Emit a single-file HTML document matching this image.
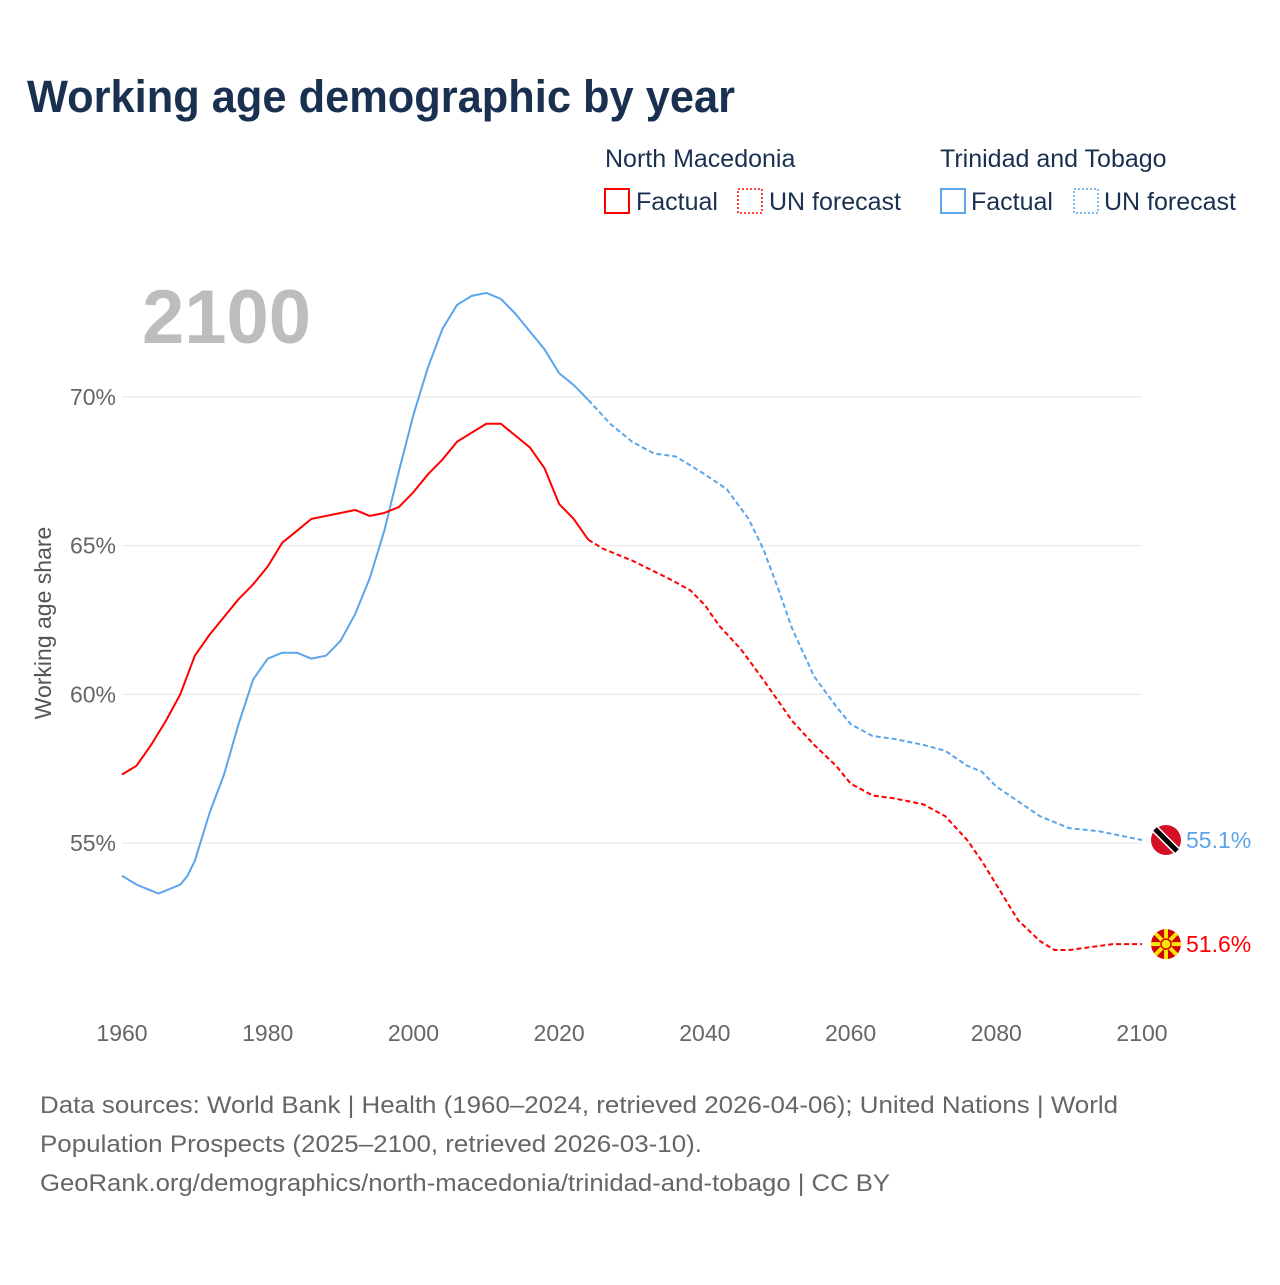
<!DOCTYPE html>
<html><head><meta charset="utf-8"><style>
body{margin:0;background:#fff;font-family:"Liberation Sans",sans-serif;}
svg text{font-family:"Liberation Sans",sans-serif;}
</style></head><body>
<svg id="c" width="1280" height="1280" viewBox="0 0 1280 1280">
<text x="27" y="112" font-size="45" font-weight="bold" fill="#1a3050" textLength="708" lengthAdjust="spacingAndGlyphs">Working age demographic by year</text>
<g font-size="25" fill="#1a3050">
<text x="605" y="167">North Macedonia</text>
<rect x="605" y="189" width="24" height="24" fill="none" stroke="#f00" stroke-width="2"/>
<text x="636" y="210">Factual</text>
<rect x="738" y="189" width="24" height="24" fill="none" stroke="#f00" stroke-width="1.5" stroke-dasharray="2,2"/>
<text x="769" y="210">UN forecast</text>
<text x="940" y="167">Trinidad and Tobago</text>
<rect x="941" y="189" width="24" height="24" fill="none" stroke="#5ba5ea" stroke-width="2"/>
<text x="971" y="210">Factual</text>
<rect x="1074" y="189" width="24" height="24" fill="none" stroke="#5ba5ea" stroke-width="1.5" stroke-dasharray="2,2"/>
<text x="1104" y="210">UN forecast</text>
</g>
<text x="142" y="343" font-size="76" font-weight="bold" fill="#bdbdbd">2100</text>
<text transform="translate(51,623) rotate(-90)" text-anchor="middle" font-size="23" fill="#555">Working age share</text>
<g id="grid"></g><g id="lines"></g>
<g font-size="24" fill="#666">
<text x="40" y="1113" textLength="1078" lengthAdjust="spacingAndGlyphs">Data sources: World Bank | Health (1960–2024, retrieved 2026-04-06); United Nations | World</text>
<text x="40" y="1152" textLength="662" lengthAdjust="spacingAndGlyphs">Population Prospects (2025–2100, retrieved 2026-03-10).</text>
<text x="40" y="1191" textLength="850" lengthAdjust="spacingAndGlyphs">GeoRank.org/demographics/north-macedonia/trinidad-and-tobago | CC BY</text>
</g>
</svg>
<script>
const yTicks=[55,60,65,70];
const xTicks=[1960,1980,2000,2020,2040,2060,2080,2100];
const mkYears=[1960,1962,1964,1966,1968,1970,1972,1974,1976,1978,1980,1982,1984,1986,1988,1990,1992,1994,1996,1998,2000,2002,2004,2006,2008,2010,2012,2014,2016,2018,2020,2022,2024,2026,2030,2035,2038,2040,2042,2045,2048,2050,2052,2055,2058,2060,2063,2066,2070,2073,2076,2078,2080,2083,2086,2088,2090,2093,2096,2100];
const mkValues=[57.3,57.6,58.3,59.1,60.0,61.3,62.0,62.6,63.2,63.7,64.3,65.1,65.5,65.9,66.0,66.1,66.2,66.0,66.1,66.3,66.8,67.4,67.9,68.5,68.8,69.1,69.1,68.7,68.3,67.6,66.4,65.9,65.2,64.9,64.5,63.9,63.5,63.0,62.3,61.5,60.5,59.8,59.1,58.3,57.6,57.0,56.6,56.5,56.3,55.9,55.1,54.4,53.6,52.4,51.7,51.4,51.4,51.5,51.6,51.6];
const ttYears=[1960,1962,1965,1968,1969,1970,1972,1974,1976,1978,1980,1982,1984,1986,1988,1990,1992,1994,1996,1998,2000,2002,2004,2006,2008,2010,2012,2014,2016,2018,2020,2022,2024,2027,2030,2033,2036,2038,2040,2043,2046,2048,2050,2052,2055,2058,2060,2063,2066,2070,2073,2076,2078,2080,2083,2086,2090,2094,2098,2100];
const ttValues=[53.9,53.6,53.3,53.6,53.9,54.4,56.0,57.3,59.0,60.5,61.2,61.4,61.4,61.2,61.3,61.8,62.7,63.9,65.5,67.5,69.4,71.0,72.3,73.1,73.4,73.5,73.3,72.8,72.2,71.6,70.8,70.4,69.9,69.1,68.5,68.1,68.0,67.7,67.4,66.9,65.9,64.9,63.6,62.2,60.6,59.6,59.0,58.6,58.5,58.3,58.1,57.6,57.4,56.9,56.4,55.9,55.5,55.4,55.2,55.1];
const NS='http://www.w3.org/2000/svg';
const X=y=>122+(y-1960)*1020/140;
const Y=v=>397+(70-v)*446/15;
function el(t,a,p){const e=document.createElementNS(NS,t);for(const k in a)e.setAttribute(k,a[k]);p.appendChild(e);return e;}
const grid=document.getElementById('grid'),lines=document.getElementById('lines');
yTicks.forEach(t=>{
 const l=el('line',{x1:122,x2:1142,y1:Y(t),y2:Y(t),stroke:'#e6e6e6'},grid);
 
 
 const tx=el('text',{x:116,y:Y(t)+8,'text-anchor':'end','font-size':23,fill:'#666'},grid);tx.textContent=t+'%';
 
 
});
xTicks.forEach(t=>{
 const tx=el('text',{x:X(t),y:1041,'text-anchor':'middle','font-size':23,fill:'#666'},grid);tx.textContent=t;
 
 
});
function series(ys,vs,col,name){
 const fact=[],fc=[];
 ys.forEach((y,i)=>{const p=X(y)+','+Y(vs[i]);if(y<=2024)fact.push(p);if(y>=2024)fc.push(p);});
 const a=el('polyline',{points:fact.join(' '),fill:'none',stroke:col,'stroke-width':2,'stroke-linejoin':'round'},lines);
 
 
 const b=el('polyline',{points:fc.join(' '),fill:'none',stroke:col,'stroke-width':2,'stroke-dasharray':'5,3'},lines);
 
 
 const last=vs[vs.length-1];
 const t=el('text',{x:1186,y:Y(last)+8,'font-size':23,fill:col},lines);t.textContent=last.toFixed(1)+'%';
 
 
 return Y(last);
}
const yt=series(ttYears,ttValues,'#5ba5ea','tt');
const ym=series(mkYears,mkValues,'#f00','mk');
const ft=el('g',{},lines);


el('circle',{cx:1166,cy:yt,r:15,fill:'#d50f25'},ft);
el('line',{x1:1155,y1:yt-11,x2:1177,y2:yt+11,stroke:'#fff','stroke-width':8},ft);
el('line',{x1:1155,y1:yt-11,x2:1177,y2:yt+11,stroke:'#000','stroke-width':5},ft);
const fm=el('g',{},lines);


el('circle',{cx:1166,cy:ym,r:15,fill:'#d20000'},fm);
for(let i=0;i<8;i++){const a=i*Math.PI/4;el('line',{x1:1166,y1:ym,x2:1166+15*Math.cos(a),y2:ym+15*Math.sin(a),stroke:'#ffe600','stroke-width':4},fm);}
el('circle',{cx:1166,cy:ym,r:5,fill:'#ffe600',stroke:'#d20000','stroke-width':1.5},fm);
</script>
</body></html>
